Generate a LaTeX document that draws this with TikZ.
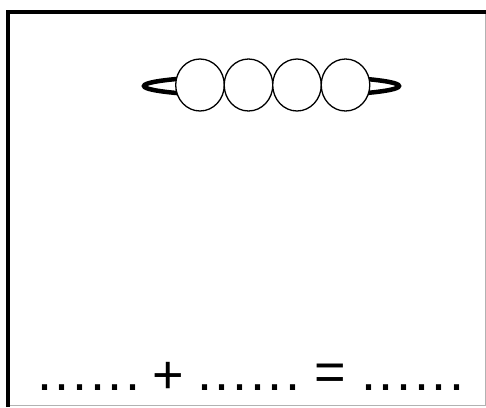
\documentclass[tikz,border=0pt]{standalone}
\usepackage{fontspec}
\setmainfont{Liberation Sans}
\usepackage{xcolor}
\usepackage{tikz}

\newcommand{\sixdots}{.\kern2.6pt.\kern2.6pt.\kern2.6pt.\kern2.6pt.\kern2.6pt.}

\begin{document}
\begin{tikzpicture}[x=1pt,y=-1pt,
  sumtext/.style={inner sep=0pt,font=\fontsize{54}{56}\selectfont}]
\useasboundingbox (0,0) rectangle (486,407);
% frame
\draw[gray!60,line width=1pt] (7.5,405) -- (485,405) -- (485,12);
\draw[line width=4pt] (7.5,407) -- (7.5,12) -- (486,12);
% string and beads
\draw[line width=4.5pt] (271.5,86) ellipse (127.5 and 10.5);
\fill[white] (200,70) rectangle (345.5,102);
\foreach \x in {200,248.5,297,345.5}
    \draw[line width=1.3pt,fill=white] (\x,85) ellipse (24.3 and 26);
% sum
\node[sumtext,anchor=base west] (dotsa) at (37,390) {\sixdots};
\node[sumtext] (plus) at (168,378) {+};
\node[sumtext,anchor=base west] (dotsb) at (197,390) {\sixdots};
\node[sumtext] (equals) at (330,377.5) {=};
\node[sumtext,anchor=base west] (dotsc) at (361,390) {\sixdots};
\end{tikzpicture}
\end{document}
